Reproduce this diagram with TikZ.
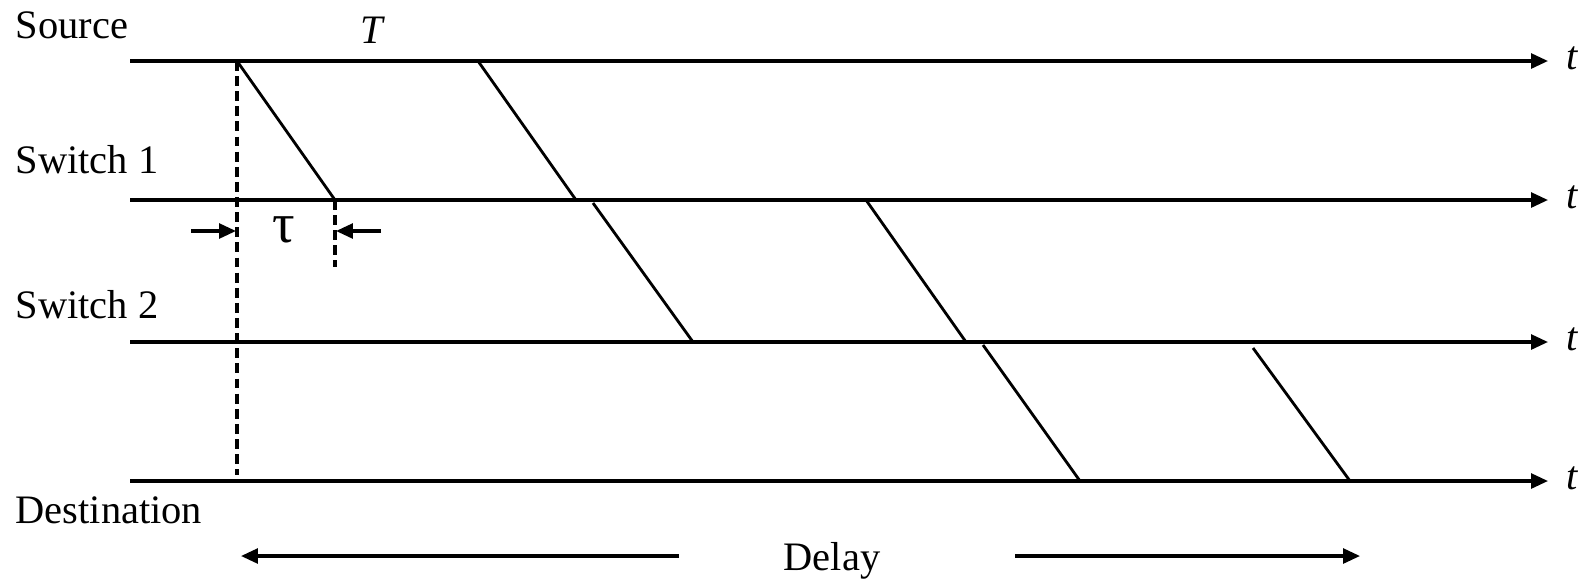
\documentclass[tikz,border=0pt]{standalone}
\usepackage{fontspec}
\setmainfont{Liberation Serif}
\usetikzlibrary{arrows.meta}

\begin{document}
\begin{tikzpicture}[
  x=0.01cm, y=-0.01cm,
  font=\fontsize{11.5}{13}\selectfont,
  tip/.style={-{Triangle[length=4.8pt,width=4.2pt]}},
  axis/.style={line width=0.9pt, tip},
  hop/.style={line width=0.8pt},
  guide/.style={line width=0.9pt, dash pattern=on 2.8pt off 1.5pt},
  lbl/.style={anchor=base west, inner sep=0pt},
  ar/.style={line width=0.9pt, tip}
]
\useasboundingbox (0,0) rectangle (1585,581);

% time axes
\foreach \n/\y/\txt in {src/61/Source, sw1/200/Switch 1, sw2/342/Switch 2, dst/481/Destination} {
  \coordinate (\n-a) at (130,\y);
  \coordinate (\n-b) at (1548,\y);
  \draw[axis] (\n-a) -- (\n-b);
  \node[lbl] (\n-t) at (1566,\y+8) {\textit{t}};
}
\node[lbl] (src) at (15,38) {Source};
\node[lbl] (sw1) at (15,173) {Switch 1};
\node[lbl] (sw2) at (15,318) {Switch 2};
\node[lbl] (dst) at (15,523) {Destination};
\node[anchor=base, inner sep=0pt] (per) at (373,43) {\textit{T}};

% packets
\foreach \xa/\ya/\xb/\yb in {237/61/335/200, 478/61/576/200, 593/203/693/342,
                            866/200/966/342, 983/345/1080/481, 1253/348/1350/481}
  \draw[hop] (\xa,\ya) -- (\xb,\yb);

% propagation time
\coordinate (g1a) at (237,61);  \coordinate (g1b) at (237,475);
\coordinate (g2a) at (335,200); \coordinate (g2b) at (335,267);
\draw[guide] (g1a) -- (g1b);
\draw[guide] (g2a) -- (g2b);
\node[anchor=base, inner sep=0pt, font=\fontsize{16}{18}\selectfont] (tau) at (284,242) {τ};
\coordinate (tl) at (191,231); \coordinate (tr) at (381,231);
\draw[ar] (tl) -- (236,231);
\draw[ar] (tr) -- (336,231);

% end-to-end delay
\node[anchor=base, inner sep=0pt] (delay) at (832,570) {Delay};
\coordinate (dl) at (679,556); \coordinate (dla) at (241,556);
\coordinate (dr) at (1015,556); \coordinate (dra) at (1360,556);
\draw[ar] (dl) -- (dla);
\draw[ar] (dr) -- (dra);
\end{tikzpicture}
\end{document}
